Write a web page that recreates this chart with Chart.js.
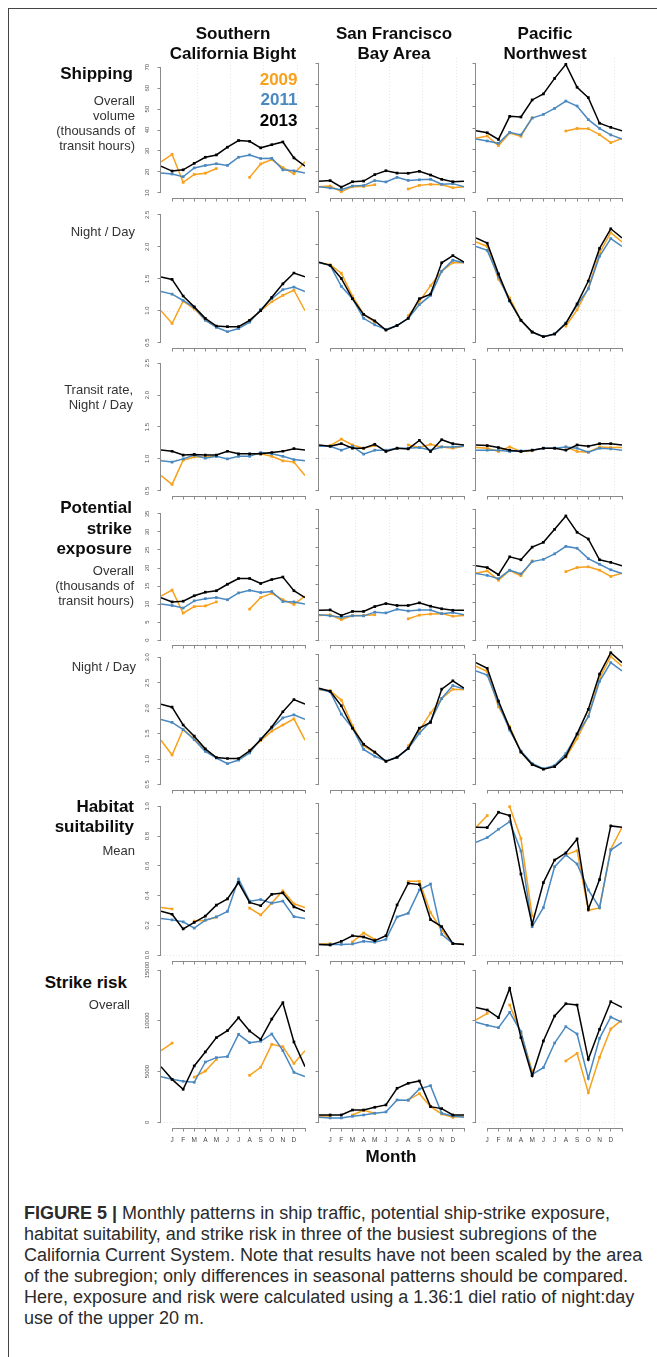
<!DOCTYPE html>
<html>
<head>
<meta charset="utf-8">
<title>Monthly patterns in ship traffic, exposure, habitat suitability and strike risk</title>
<script src="https://cdn.jsdelivr.net/npm/chart.js@4.4.1/dist/chart.umd.min.js"></script>
<style>
  html, body { margin: 0; padding: 0; background: #fff; }
  #fig { position: relative; width: 657px; height: 1357px; overflow: hidden;
         font-family: "Liberation Sans", Arial, Helvetica, sans-serif; color: #0c0c0c; }
  #fig canvas { position: absolute; }
  .txt { position: absolute; white-space: nowrap; }
  .big { font-weight: bold; font-size: 17px; line-height: 20.5px; }
  .sub { font-size: 13px; line-height: 15px; color: #333; }
  .cap { font-size: 18px; line-height: 20.9px; color: #2b2b2b; }
  .frameTop { position: absolute; left: 8px; top: 8px; width: 649px; height: 1px; background: #444; }
  .frameLeft { position: absolute; left: 8px; top: 8px; width: 1px; height: 1349px; background: #444; }
</style>
</head>
<body>
<div id="fig">
  <div class="frameTop"></div>
  <div class="frameLeft"></div>
</div>
<script>
// ---------- categories ----------
const MONTH_LABELS = ['J','F','M','A','M','J','J','A','S','O','N','D',''];
const MONTH_TICKS  = [1,2,3,4,5,6,7,8,9,10,11,12,13];
const YEARS  = ['2009','2011','2013'];
const SUBREGIONS = [['Southern','California Bight'], ['San Francisco','Bay Area'], ['Pacific','Northwest']];

// ---------- y tick labels ----------
const yTicksShipping      = ['10','20','30','40','50','60','70'];
const yTicksRatio         = ['0.5','1.0','1.5','2.0','2.5'];
const yTicksExposure      = ['0','5','10','15','20','25','30','35'];
const yTicksExposureRatio = ['0.5','1.0','1.5','2.0','2.5','3.0'];
const yTicksHabitat       = ['0.0','0.2','0.4','0.6','0.8','1.0'];
const yTicksRisk          = ['0','5000','10000','15000'];

// ---------- monthly values, Jan..Dec (null = no data) ----------
// "Wrap" arrays hold the value where the Dec-Jan segment meets the panel edges, for 2009, 2011, 2013.

// Shipping, overall volume (thousands of transit hours)
const shipSCB2009 = [28.4, 15.0, 18.8, 19.4, 21.6, null, null, 17.4, 23.8, 25.9, 22.1, 19.1];
const shipSCB2011 = [19.0, 17.7, 21.9, 23.1, 23.9, 23.1, 27.0, 28.1, 26.4, 26.5, 21.0, 20.5];
const shipSCB2013 = [20.4, 21.0, 24.1, 27.0, 28.1, 31.8, 35.0, 34.6, 31.5, 33.0, 34.3, 26.7];
const shipSCBWrap = [24.8, 19.5, 22.7];
const shipSF2009  = [13.1, 10.5, 12.8, 12.9, 13.7, null, null, 11.7, 13.4, 13.9, 13.7, 12.3];
const shipSF2011  = [12.2, 11.4, 13.1, 13.3, 15.6, 15.0, 17.1, 15.7, 16.0, 16.2, 13.9, 14.2];
const shipSF2013  = [15.6, 12.6, 15.1, 15.4, 18.4, 20.2, 19.1, 19.0, 19.9, 18.2, 16.2, 15.1];
const shipSFWrap  = [12.8, 12.8, 15.3];
const shipPNW2009 = [36.3, 31.8, 37.7, 36.1, 44.8, null, null, 38.6, 39.8, 39.7, 36.9, 33.2];
const shipPNW2011 = [34.0, 32.9, 38.0, 36.8, 44.6, 46.3, 49.1, 52.5, 50.2, 43.9, 39.8, 36.8];
const shipPNW2013 = [37.8, 34.7, 45.4, 45.1, 53.0, 55.8, 63.0, 69.5, 58.9, 54.1, 42.2, 40.3];
const shipPNWWrap = [35.2, 34.9, 38.7];

// Shipping, night / day
const ndSCB2009 = [0.80, 1.15, 1.03, 0.85, 0.75, null, null, 0.85, 1.00, 1.14, 1.24, 1.32];
const ndSCB2011 = [1.26, 1.16, 1.05, 0.85, 0.74, 0.67, 0.72, 0.82, 1.02, 1.19, 1.33, 1.37];
const ndSCB2013 = [1.49, 1.23, 1.06, 0.88, 0.76, 0.75, 0.75, 0.85, 1.00, 1.21, 1.42, 1.59];
const ndSCBWrap = [1.00, 1.30, 1.53];
const ndSF2009  = [1.69, 1.56, 1.21, 0.93, 0.81, null, null, 0.91, 1.13, 1.37, 1.59, 1.72];
const ndSF2011  = [1.68, 1.36, 1.17, 0.87, 0.77, 0.70, 0.76, 0.87, 1.08, 1.22, 1.59, 1.76];
const ndSF2013  = [1.68, 1.48, 1.17, 0.93, 0.83, 0.69, 0.76, 0.87, 1.17, 1.24, 1.72, 1.83];
const ndSFWrap  = [1.72, 1.72, 1.73];
const ndPNW2009 = [1.97, 1.47, 1.18, 0.84, 0.66, null, null, 0.75, 1.00, 1.33, 1.87, 2.18];
const ndPNW2011 = [1.91, 1.51, 1.13, 0.84, 0.66, 0.59, 0.63, 0.80, 1.07, 1.32, 1.82, 2.09];
const ndPNW2013 = [2.02, 1.55, 1.14, 0.84, 0.66, 0.59, 0.63, 0.79, 1.09, 1.44, 1.94, 2.24];
const ndPNWWrap = [2.04, 1.97, 2.10];

// Transit rate, night / day
const trSCB2009 = [0.60, 0.98, 1.03, 1.03, 1.04, null, null, 1.07, 1.08, 1.04, 0.97, 0.95];
const trSCB2011 = [0.95, 1.00, 1.06, 1.01, 1.04, 1.00, 1.04, 1.04, 1.10, 1.08, 1.04, 0.99];
const trSCB2013 = [1.12, 1.06, 1.07, 1.06, 1.06, 1.12, 1.08, 1.08, 1.08, 1.10, 1.12, 1.16];
const trSCBWrap = [0.74, 0.97, 1.14];
const trSF2009  = [1.19, 1.29, 1.20, 1.15, 1.19, null, null, 1.20, 1.16, 1.21, 1.17, 1.15];
const trSF2011  = [1.18, 1.12, 1.18, 1.06, 1.12, 1.12, 1.15, 1.15, 1.16, 1.12, 1.17, 1.17];
const trSF2013  = [1.18, 1.22, 1.15, 1.15, 1.21, 1.10, 1.15, 1.14, 1.27, 1.10, 1.28, 1.22];
const trSFWrap  = [1.18, 1.18, 1.20];
const trPNW2009 = [1.15, 1.10, 1.17, 1.10, 1.11, null, null, 1.17, 1.10, 1.09, 1.17, 1.16];
const trPNW2011 = [1.12, 1.12, 1.10, 1.11, 1.12, 1.15, 1.15, 1.17, 1.15, 1.09, 1.15, 1.14];
const trPNW2013 = [1.19, 1.16, 1.12, 1.10, 1.12, 1.15, 1.15, 1.12, 1.20, 1.18, 1.22, 1.22];
const trPNWWrap = [1.16, 1.12, 1.20];

// Potential strike exposure, overall (thousands of transit hours)
const expSCB2009 = [13.9, 7.5, 9.3, 9.5, 10.6, null, null, 8.6, 11.8, 13.0, 11.2, 9.9];
const expSCB2011 = [9.6, 8.9, 10.9, 11.5, 11.8, 11.2, 13.1, 13.8, 13.2, 13.5, 10.7, 10.6];
const expSCB2013 = [10.6, 10.8, 12.3, 13.3, 13.7, 15.5, 17.1, 17.1, 15.7, 16.8, 17.5, 13.7];
const expSCBWrap = [12.2, 10.0, 11.8];
const expSF2009  = [6.8, 5.5, 6.6, 6.6, 6.8, null, null, 5.7, 6.7, 7.0, 7.1, 6.4];
const expSF2011  = [6.5, 6.1, 6.5, 6.5, 7.5, 7.3, 8.3, 7.8, 8.1, 8.1, 7.1, 7.4];
const expSF2013  = [8.1, 6.6, 7.7, 7.7, 9.0, 9.8, 9.3, 9.3, 10.0, 9.1, 8.4, 8.0];
const expSFWrap  = [6.6, 6.8, 8.0];
const expPNW2009 = [18.6, 16.1, 18.7, 17.3, 21.3, null, null, 18.4, 19.5, 19.7, 18.8, 17.1];
const expPNW2011 = [17.4, 16.5, 18.8, 17.8, 21.1, 21.7, 23.2, 25.2, 24.7, 21.9, 20.4, 18.9];
const expPNW2013 = [19.5, 17.6, 22.4, 21.6, 25.0, 26.3, 29.8, 33.4, 29.0, 27.2, 21.6, 20.9];
const expPNWWrap = [18.0, 17.9, 20.0];

// Potential strike exposure, night / day
const endSCB2009 = [1.08, 1.58, 1.40, 1.17, 1.03, null, null, 1.17, 1.36, 1.55, 1.67, 1.79];
const endSCB2011 = [1.72, 1.58, 1.38, 1.15, 1.02, 0.91, 0.98, 1.12, 1.40, 1.61, 1.81, 1.87];
const endSCB2013 = [2.02, 1.67, 1.45, 1.20, 1.03, 1.01, 1.01, 1.16, 1.38, 1.63, 1.93, 2.17];
const endSCBWrap = [1.37, 1.78, 2.08];
const endSF2009  = [2.30, 2.12, 1.63, 1.24, 1.11, null, null, 1.24, 1.54, 1.87, 2.15, 2.33];
const endSF2011  = [2.28, 1.85, 1.58, 1.17, 1.04, 0.95, 1.02, 1.19, 1.48, 1.71, 2.15, 2.40];
const endSF2013  = [2.29, 2.01, 1.58, 1.27, 1.12, 0.94, 1.02, 1.19, 1.58, 1.69, 2.33, 2.49];
const endSFWrap  = [2.32, 2.33, 2.35];
const endPNW2009 = [2.67, 1.99, 1.61, 1.12, 0.88, null, null, 1.02, 1.38, 1.81, 2.54, 2.96];
const endPNW2011 = [2.60, 2.05, 1.54, 1.14, 0.90, 0.80, 0.86, 1.09, 1.46, 1.80, 2.48, 2.84];
const endPNW2013 = [2.73, 2.10, 1.58, 1.12, 0.88, 0.79, 0.84, 1.04, 1.47, 1.94, 2.62, 3.03];
const endPNWWrap = [2.77, 2.68, 2.84];

// Habitat suitability, mean
const habSCB2009 = [0.310, null, 0.229, 0.235, 0.255, null, null, 0.316, 0.270, 0.350, 0.433, 0.345];
const habSCB2011 = [0.237, 0.224, 0.182, 0.235, 0.257, 0.294, 0.512, 0.363, 0.374, 0.349, 0.363, 0.259];
const habSCB2013 = [0.275, 0.176, 0.220, 0.262, 0.336, 0.378, 0.488, 0.354, 0.332, 0.409, 0.418, 0.325];
const habSCBWrap = [0.320, 0.246, 0.295];
const habSF2009  = [0.075, null, 0.086, 0.145, 0.103, null, null, 0.486, 0.486, 0.279, 0.165, 0.075];
const habSF2011  = [0.070, 0.070, 0.073, 0.090, 0.084, 0.103, 0.251, 0.275, 0.429, 0.468, 0.136, 0.075];
const habSF2013  = [0.066, 0.090, 0.127, 0.119, 0.095, 0.127, 0.330, 0.473, 0.464, 0.233, 0.187, 0.075];
const habSFWrap  = [0.073, 0.070, 0.070];
const habPNW2009 = [0.919, null, 0.978, 0.769, 0.259, null, null, 0.660, 0.688, 0.295, 0.310, 0.697];
const habPNW2011 = [0.774, 0.829, 0.879, 0.686, 0.187, 0.312, 0.582, 0.659, 0.600, 0.429, 0.312, 0.692];
const habPNW2013 = [0.840, 0.941, 0.919, 0.534, 0.202, 0.477, 0.626, 0.673, 0.765, 0.301, 0.497, 0.851];
const habPNWWrap = [0.842, 0.743, 0.842];

// Strike risk, overall
const riskSCB2009 = [7800, null, 4450, 5050, 6200, null, null, 4630, 5420, 7680, 7450, 5800];
const riskSCB2011 = [4230, 4040, 3940, 5940, 6370, 6470, 8660, 7840, 7980, 8700, 7060, 4920];
const riskSCB2013 = [4230, 3250, 5550, 6930, 8340, 9030, 10300, 8990, 8170, 10170, 11780, 7910];
const riskSCBWrap = [7050, 4500, 5480];
const riskSF2009  = [620, null, 720, 1180, 890, null, null, 2200, 2820, 1540, 820, 490];
const riskSF2011  = [430, 430, 590, 720, 890, 1020, 2200, 2170, 3280, 3610, 890, 620];
const riskSF2013  = [720, 720, 1210, 1210, 1480, 1710, 3350, 3840, 4070, 1540, 1350, 720];
const riskSFWrap  = [620, 490, 720];
const riskPNW2009 = [10730, null, 11550, 8800, 5090, null, null, 6040, 6790, 2920, 6400, 9190];
const riskPNW2011 = [9550, 9320, 10830, 8930, 4730, 5380, 7810, 9420, 8700, 4330, 8270, 10370];
const riskPNW2013 = [11060, 10310, 13190, 8340, 4600, 8010, 10470, 11680, 11550, 6200, 9160, 11880];
const riskPNWWrap = [10080, 9850, 11320];

// ---------- panel table (rows x subregions) ----------
const ROWS = [
  { ticks: yTicksShipping, ref: [], panels: [
      [shipSCB2009, shipSCB2011, shipSCB2013, shipSCBWrap],
      [shipSF2009,  shipSF2011,  shipSF2013,  shipSFWrap],
      [shipPNW2009, shipPNW2011, shipPNW2013, shipPNWWrap]] },
  { ticks: yTicksRatio, ref: [1], panels: [
      [ndSCB2009, ndSCB2011, ndSCB2013, ndSCBWrap],
      [ndSF2009,  ndSF2011,  ndSF2013,  ndSFWrap],
      [ndPNW2009, ndPNW2011, ndPNW2013, ndPNWWrap]] },
  { ticks: yTicksRatio, ref: [1], panels: [
      [trSCB2009, trSCB2011, trSCB2013, trSCBWrap],
      [trSF2009,  trSF2011,  trSF2013,  trSFWrap],
      [trPNW2009, trPNW2011, trPNW2013, trPNWWrap]] },
  { ticks: yTicksExposure, ref: [0], panels: [
      [expSCB2009, expSCB2011, expSCB2013, expSCBWrap],
      [expSF2009,  expSF2011,  expSF2013,  expSFWrap],
      [expPNW2009, expPNW2011, expPNW2013, expPNWWrap]] },
  { ticks: yTicksExposureRatio, ref: [1], panels: [
      [endSCB2009, endSCB2011, endSCB2013, endSCBWrap],
      [endSF2009,  endSF2011,  endSF2013,  endSFWrap],
      [endPNW2009, endPNW2011, endPNW2013, endPNWWrap]] },
  { ticks: yTicksHabitat, ref: [0], panels: [
      [habSCB2009, habSCB2011, habSCB2013, habSCBWrap],
      [habSF2009,  habSF2011,  habSF2013,  habSFWrap],
      [habPNW2009, habPNW2011, habPNW2013, habPNWWrap]] },
  { ticks: yTicksRisk, ref: [0], panels: [
      [riskSCB2009, riskSCB2011, riskSCB2013, riskSCBWrap],
      [riskSF2009,  riskSF2011,  riskSF2013,  riskSFWrap],
      [riskPNW2009, riskPNW2011, riskPNW2013, riskPNWWrap]] }
];

// ---------- styling & layout ----------
const COLORS = ['#f7a11c', '#4a88c0', '#000000'];
const AXIS_COLOR = '#8a8a8a';
const GUIDE_COLOR = '#e8e8e8';
const GUIDE_X = [3.25, 6.25, 9.25, 12.25];
const COL_LEFT = [161, 319, 476];
const COL_WIDTH = [144, 145, 146];
const ROW_TICK_PX = [[63.3,192.7],[211.8,342.5],[360,490.7],[510,640],[654.3,784.3],[803.3,955],[970,1122.3]];
const PAD = { l: 30, t: 6, r: 6, b: 22 };
const TICK_LEN = 3.5;
const Y_LABEL_GAP = 13.3;     // axis line to centre of rotated tick label
const TICK_FONT = { family: '"Liberation Sans", Arial, sans-serif', size: 6 };

Chart.defaults.font.family = '"Liberation Sans", Arial, sans-serif';

const fig = document.getElementById('fig');
const measure = document.createElement('canvas').getContext('2d');
measure.font = TICK_FONT.size + 'px ' + TICK_FONT.family;

// R-style axis lines running from the first to the last tick
const axisLines = {
  id: 'axisLines',
  afterDraw(chart) {
    const { ctx, chartArea: a, scales: { x, y } } = chart;
    ctx.save();
    ctx.strokeStyle = AXIS_COLOR;
    ctx.lineWidth = 1;
    ctx.beginPath();
    const ax = Math.round(a.left) - 0.5;
    ctx.moveTo(ax, y.getPixelForValue(y.ticks[0].value));
    ctx.lineTo(ax, y.getPixelForValue(y.ticks[y.ticks.length - 1].value));
    const ay = Math.round(a.bottom) + 0.5;
    ctx.moveTo(x.getPixelForValue(x.ticks[0].value), ay);
    ctx.lineTo(x.getPixelForValue(x.ticks[x.ticks.length - 1].value), ay);
    ctx.stroke();
    ctx.restore();
  }
};

// faint dotted guides: seasonal verticals and a reference level
const guides = {
  id: 'guides',
  beforeDatasetsDraw(chart, args, opts) {
    const { ctx, chartArea: a, scales: { x, y } } = chart;
    ctx.save();
    ctx.beginPath();
    ctx.rect(a.left, a.top, a.width, a.height);
    ctx.clip();
    ctx.strokeStyle = GUIDE_COLOR;
    ctx.lineWidth = 1;
    ctx.setLineDash([1, 2]);
    ctx.beginPath();
    GUIDE_X.forEach(v => {
      const px = Math.round(x.getPixelForValue(v)) + 0.5;
      ctx.moveTo(px, a.top); ctx.lineTo(px, a.bottom);
    });
    (opts.ref || []).forEach(v => {
      if (v < y.min || v > y.max) return;
      const py = Math.round(y.getPixelForValue(v)) + 0.5;
      ctx.moveTo(a.left, py); ctx.lineTo(a.right, py);
    });
    ctx.stroke();
    ctx.restore();
  }
};

ROWS.forEach((row, r) => {
  const tickVals = row.ticks.map(Number);
  const vB = tickVals[0], vT = tickVals[tickVals.length - 1];
  const [pT, pB] = ROW_TICK_PX[r];
  const ext = 0.04 * (pB - pT);
  const top = Math.round(pT - ext), bottom = Math.round(pB + ext);
  const pxPerUnit = (pB - pT) / (vT - vB);
  const yMax = vT + (pT - top) / pxPerUnit;
  const yMin = vB - (bottom - pB) / pxPerUnit;
  const widest = Math.max(...row.ticks.map(s => measure.measureText(s).width));
  const isBottom = r === ROWS.length - 1;

  row.panels.forEach((panel, c) => {
    const wrap = panel[3];
    const w = COL_WIDTH[c] + PAD.l + PAD.r;
    const h = (bottom - top) + PAD.t + PAD.b;
    const cv = document.createElement('canvas');
    cv.width = w; cv.height = h;
    cv.style.left = (COL_LEFT[c] - PAD.l) + 'px';
    cv.style.top = (top - PAD.t) + 'px';
    cv.style.width = w + 'px';
    cv.style.height = h + 'px';
    fig.appendChild(cv);

    const datasets = [0, 1, 2].map(k => ({
      label: YEARS[k],
      data: [{ x: 0, y: wrap[k] }]
        .concat(panel[k].map((v, i) => ({ x: i + 1, y: v })))
        .concat([{ x: 13, y: wrap[k] }]),
      borderColor: COLORS[k],
      backgroundColor: COLORS[k],
      pointBackgroundColor: COLORS[k],
      borderWidth: 1.5,
      pointStyle: 'rect',
      pointRadius: ctx => (ctx.dataIndex === 0 || ctx.dataIndex === 13) ? 0 : 1.9,
      pointBorderWidth: 0,
      tension: 0,
      spanGaps: false,
      order: 2 - k
    }));

    new Chart(cv, {
      type: 'line',
      data: { datasets },
      options: {
        responsive: false,
        animation: false,
        devicePixelRatio: 1,
        events: [],
        layout: { padding: { top: PAD.t, right: PAD.r, left: 0, bottom: 0 } },
        plugins: { legend: { display: false }, tooltip: { enabled: false }, guides: { ref: row.ref } },
        scales: {
          x: {
            type: 'linear', min: 0, max: 13,
            afterBuildTicks: s => { s.ticks = MONTH_TICKS.map(v => ({ value: v })); },
            afterFit: s => { s.height = PAD.b; },
            border: { display: false },
            grid: { drawOnChartArea: false, drawTicks: true, tickLength: TICK_LEN, color: AXIS_COLOR, lineWidth: 1 },
            ticks: {
              display: isBottom, autoSkip: false, maxRotation: 0, minRotation: 0,
              padding: 5, color: '#444', font: { family: TICK_FONT.family, size: 6.5 },
              callback: (v, i) => MONTH_LABELS[i]
            }
          },
          y: {
            type: 'linear', min: yMin, max: yMax,
            afterBuildTicks: s => { s.ticks = tickVals.map(v => ({ value: v })); },
            afterFit: s => { s.width = PAD.l; },
            border: { display: false },
            grid: { drawOnChartArea: false, drawTicks: true, tickLength: TICK_LEN, color: AXIS_COLOR, lineWidth: 1 },
            ticks: {
              display: c === 0, minRotation: 90, maxRotation: 90, crossAlign: 'center',
              padding: Y_LABEL_GAP - TICK_LEN - widest / 2,
              color: '#555', font: TICK_FONT,
              callback: (v, i) => row.ticks[i]
            }
          }
        }
      },
      plugins: [guides, axisLines]
    });
  });
});

// ---------- text ----------
function text(html, cls, x, yTop, align, color) {
  const d = document.createElement('div');
  d.className = 'txt ' + cls;
  d.innerHTML = html;
  d.style.top = yTop + 'px';
  if (align === 'right') { d.style.right = (657 - x) + 'px'; d.style.textAlign = 'right'; }
  else if (align === 'center') { d.style.left = (x - 150) + 'px'; d.style.width = '300px'; d.style.textAlign = 'center'; }
  else { d.style.left = x + 'px'; }
  if (color) d.style.color = color;
  fig.appendChild(d);
}

// subregion headers
[233, 394, 545].forEach((cx, i) => text(SUBREGIONS[i].join('<br>'), 'big', cx, 23.5, 'center'));

// legend
YEARS.forEach((yr, k) => text(yr, 'big', 297.5, 69.8 + k * 20.4, 'right', COLORS[k]));

// row titles
text('Shipping', 'big', 133, 63.7, 'right');
text('Overall<br>volume<br>(thousands of<br>transit hours)', 'sub', 135, 92.5, 'right');
text('Night / Day', 'sub', 135, 224.2, 'right');
text('Transit rate,<br>Night / Day', 'sub', 133, 381.5, 'right');
text('Potential<br>strike<br>exposure', 'big', 132, 498, 'right');
text('Overall<br>(thousands of<br>transit hours)', 'sub', 134, 562.5, 'right');
text('Night / Day', 'sub', 136, 659.2, 'right');
text('Habitat<br>suitability', 'big', 134, 796.5, 'right');
text('Mean', 'sub', 135, 843.2, 'right');
text('Strike risk', 'big', 127, 973, 'right');
text('Overall', 'sub', 130, 996.5, 'right');

// x-axis title
text('Month', 'big', 391, 1146.5, 'center');

// caption
text('<b>FIGURE 5 |</b> Monthly patterns in ship traffic, potential ship-strike exposure,<br>' +
     'habitat suitability, and strike risk in three of the busiest subregions of the<br>' +
     'California Current System. Note that results have not been scaled by the area<br>' +
     'of the subregion; only differences in seasonal patterns should be compared.<br>' +
     'Here, exposure and risk were calculated using a 1.36:1 diel ratio of night:day<br>' +
     'use of the upper 20 m.', 'cap', 24, 1203, 'left');
</script>
</body>
</html>
